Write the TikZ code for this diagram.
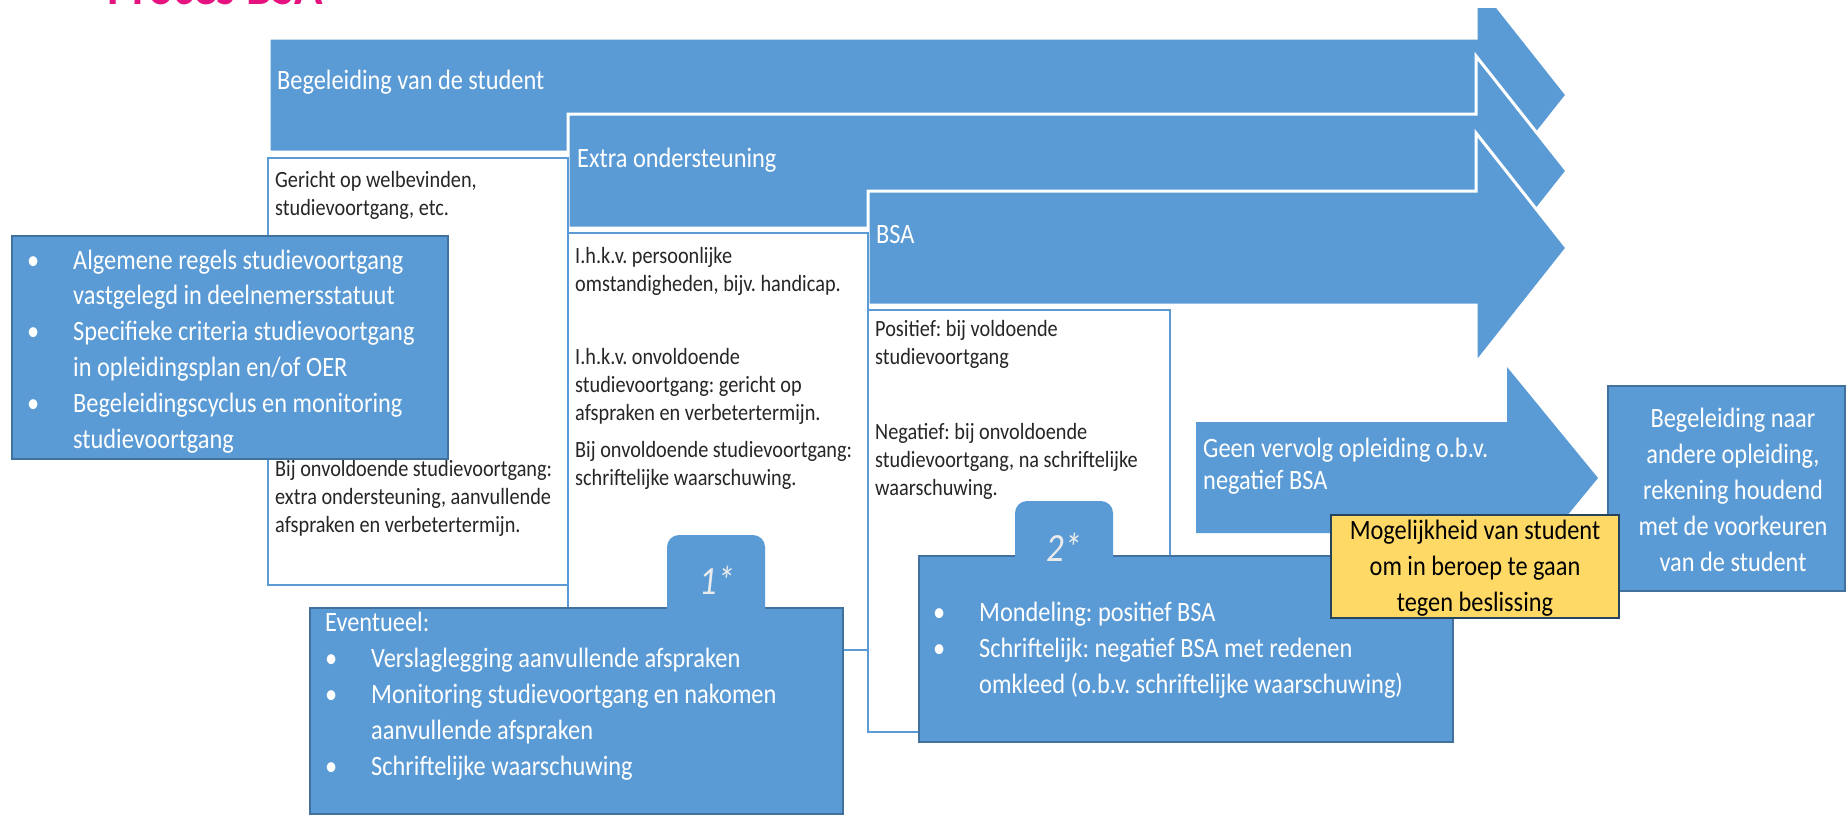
\documentclass[tikz,border=0pt]{standalone}
\usepackage{fontspec}
\setmainfont{Carlito}[FakeStretch=0.87]
\usepackage{tikz}
\usetikzlibrary{calc}
\definecolor{bsablue}{HTML}{5B9BD5}
\definecolor{bsadark}{HTML}{41719C}
\definecolor{bsayellow}{HTML}{FFD966}
\definecolor{bsapink}{HTML}{E6127F}
\newcommand{\bolletje}{\makebox[46pt][l]{\textbullet}}
\newcommand{\inspring}{\hspace*{46pt}}
\frenchspacing

\begin{document}
\begin{tikzpicture}[x=1pt,y=-1pt,
    pijl/.style={fill=bsablue, draw=white, line width=3pt},
    wit/.style={fill=white, draw=bsablue, line width=2pt},
    blok/.style={fill=bsablue, draw=bsadark, line width=1.5pt},
    kop/.style={anchor=base west, inner sep=0pt, text=white, font=\fontsize{28}{34}\selectfont},
    tekst/.style={anchor=base west, inner sep=0pt, align=left, text=black!85, font=\fontsize{23.3}{27.6}\selectfont},
    wittekst/.style={anchor=base west, inner sep=0pt, align=left, text=white, font=\fontsize{28}{35.8}\selectfont},
    ster/.style={inner sep=0pt, text=white!92!black, font=\itshape\fontsize{40}{40}\selectfont}]

\useasboundingbox (0,0) rectangle (1848,817);

%the title, mostly cut off
\node[anchor=base west, inner sep=0pt, text=bsapink, font=\bfseries\fontsize{54}{60}\selectfont] (titel) at (107,4) {Proces BSA};

%the three big arrows
\def\hx{1476}
\def\tx{1567}
\begin{scope}
    \clip (0,8) rectangle (1848,817);
    \foreach \xl/\yt in {269/38, 568/114, 868/191} {
    \draw[pijl] (\xl,\yt) -- (\hx,\yt) -- (\hx,\yt-58) -- (\tx,\yt+57) -- (\hx,\yt+172) -- (\hx,\yt+114) -- (\xl,\yt+114) -- cycle;   }
\end{scope}
\node[kop] (begeleiding) at (277,89) {Begeleiding van de student};
\node[kop] (extra) at (577,167) {Extra ondersteuning};
\node[kop] (bsa) at (876,243) {BSA};

%the white boxes under the arrows (text nodes sit on their last line)
\draw[wit] (268,158) rectangle (568,585);
\draw[wit] (568,233) rectangle (868,650);
\draw[wit] (868,310) rectangle (1170,732);
\node[tekst] (gericht) at (275,215) {Gericht op welbevinden,\\studievoortgang, etc.};
\node[tekst] (bijA) at (275,532) {Bij onvoldoende studievoortgang:\\extra ondersteuning, aanvullende\\afspraken en verbetertermijn.};
\node[tekst] (persoonlijk) at (575,291) {I.h.k.v. persoonlijke\\omstandigheden, bijv. handicap.};
\node[tekst] (onvoldoende) at (575,420) {I.h.k.v. onvoldoende\\studievoortgang: gericht op\\afspraken en verbetertermijn.};
\node[tekst] (bijB) at (575,485) {Bij onvoldoende studievoortgang:\\schriftelijke waarschuwing.};
\node[tekst] (positief) at (875,364) {Positief: bij voldoende\\studievoortgang};
\node[tekst] (negatief) at (875,495) {Negatief: bij onvoldoende\\studievoortgang, na schriftelijke\\waarschuwing.};

%rules on the left
\draw[blok] (12,236) rectangle (448,459);
\node[wittekst] (regels) at (27,448) {\bolletje Algemene regels studievoortgang\\\inspring vastgelegd in deelnemersstatuut\\\bolletje Specifieke criteria studievoortgang\\\inspring in opleidingsplan en/of OER\\\bolletje Begeleidingscyclus en monitoring\\\inspring studievoortgang};

%note 1*
\draw[blok] (310,608) rectangle (843,814);
\fill[bsablue, rounded corners=12pt] (667,535) rectangle (765,640);
\node[ster] (een) at (717,580) {1*};
\node[wittekst] (eventueel) at (325,775) {Eventueel:\\\bolletje Verslaglegging aanvullende afspraken\\\bolletje Monitoring studievoortgang en nakomen\\\inspring aanvullende afspraken\\\bolletje Schriftelijke waarschuwing};

%no continuation
\fill[bsablue] (1196,422) -- (1507,422) -- (1507,367) -- (1598,478) -- (1507,589) -- (1507,533) -- (1196,533) -- cycle;
\node[wittekst, font=\fontsize{28}{32}\selectfont] (geenvervolg) at (1203,489) {Geen vervolg opleiding o.b.v.\\negatief BSA};

%note 2*
\draw[blok] (919,556) rectangle (1453,742);
\fill[bsablue, rounded corners=12pt] (1015,501) rectangle (1113,590);
\node[ster] (twee) at (1064,547) {2*};
\node[wittekst] (mondeling) at (933,693) {\bolletje Mondeling: positief BSA\\\bolletje Schriftelijk: negatief BSA met redenen\\\inspring omkleed (o.b.v. schriftelijke waarschuwing)};

%other programme
\draw[blok] (1608,386) rectangle (1845,591);
\node[wittekst, anchor=base, align=center] (naar) at (1733,571) {Begeleiding naar\\andere opleiding,\\rekening houdend\\met de voorkeuren\\van de student};

%appeal
\draw[fill=bsayellow, draw=bsadark!60!black, line width=1.5pt] (1331,515) rectangle (1619,618);
\node[wittekst, anchor=base, align=center, text=black] (beroep) at (1475,611) {Mogelijkheid van student\\om in beroep te gaan\\tegen beslissing};
\end{tikzpicture}
\end{document}
